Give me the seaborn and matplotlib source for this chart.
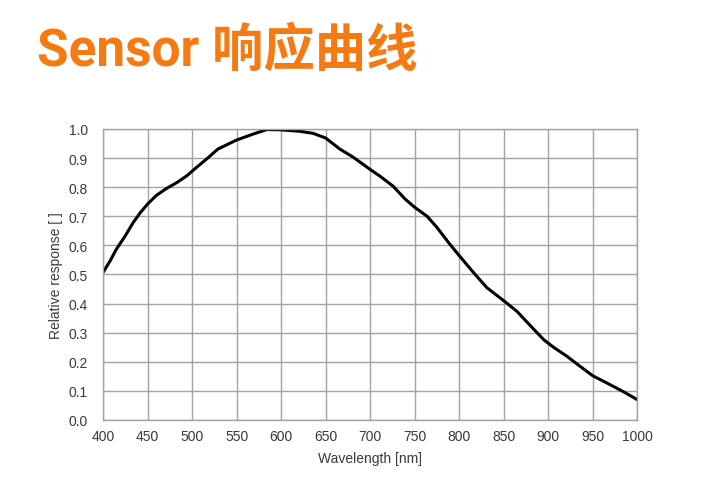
import numpy as np
import pandas as pd
import matplotlib
matplotlib.use("Agg")
import matplotlib.pyplot as plt
import seaborn as sns

# values
wavelength = [400, 408, 415, 425, 434, 442, 450, 460, 471, 483, 494, 505, 516, 529,
              550, 569, 584, 600, 621, 636, 650, 666, 681, 700, 711, 726, 739, 750,
              764, 775, 788, 800, 816, 831, 850, 865, 880, 895, 906, 921, 936, 950,
              966, 984, 1000]
response = [0.507, 0.547, 0.587, 0.633, 0.679, 0.713, 0.742, 0.772, 0.795, 0.816, 0.839,
            0.868, 0.896, 0.931, 0.962, 0.983, 0.998, 0.997, 0.992, 0.985, 0.969, 0.931,
            0.903, 0.861, 0.838, 0.803, 0.760, 0.731, 0.700, 0.662, 0.610, 0.565, 0.507,
            0.455, 0.410, 0.373, 0.324, 0.276, 0.250, 0.219, 0.184, 0.152, 0.127, 0.098,
            0.070]
df = pd.DataFrame({"Wavelength [nm]": wavelength, "Relative response [ ]": response})

sns.set_theme(style="white")
plt.rcParams['font.family'] = ['Liberation Sans', 'DejaVu Sans']

fig = plt.figure(figsize=(7.01, 4.85), dpi=100)
ax = fig.add_axes([0.147, 0.132, 0.762, 0.600])

sns.lineplot(data=df, x="Wavelength [nm]", y="Relative response [ ]", ax=ax,
             color="black", linewidth=2.2, solid_joinstyle="round", solid_capstyle="round")

ax.set_xlim(400, 1000)
ax.set_ylim(0, 1.0)
ax.set_xticks(np.arange(400, 1001, 50))
ax.set_yticks(np.arange(0, 1.01, 0.1))
ax.set_yticklabels([f"{v:.1f}" for v in np.arange(0, 1.01, 0.1)])
ax.grid(True, color="#a3a3a3", linewidth=1.0)
ax.set_axisbelow(True)
for s in ax.spines.values():
    s.set_color("#a3a3a3")
    s.set_linewidth(1.0)
ax.tick_params(axis="both", labelsize=10, labelcolor="#3a3a3a", color="#a3a3a3",
               length=3, width=1.0, direction="out")
ax.tick_params(axis="x", pad=3.5)
ax.tick_params(axis="y", pad=8)
ax.set_xlabel("Wavelength [nm]", fontsize=10, color="#3a3a3a", labelpad=6)
ax.set_ylabel("Relative response [ ]", fontsize=10, color="#3a3a3a", labelpad=4)

fig.text(0.053, 1 - 66 / 485, "Sensor 响应曲线", fontsize=37, fontweight="bold",
         color="#F57A12", family=['Roboto', 'Noto Sans CJK SC'], va="baseline", ha="left")

fig.savefig("out.png", dpi=100)
